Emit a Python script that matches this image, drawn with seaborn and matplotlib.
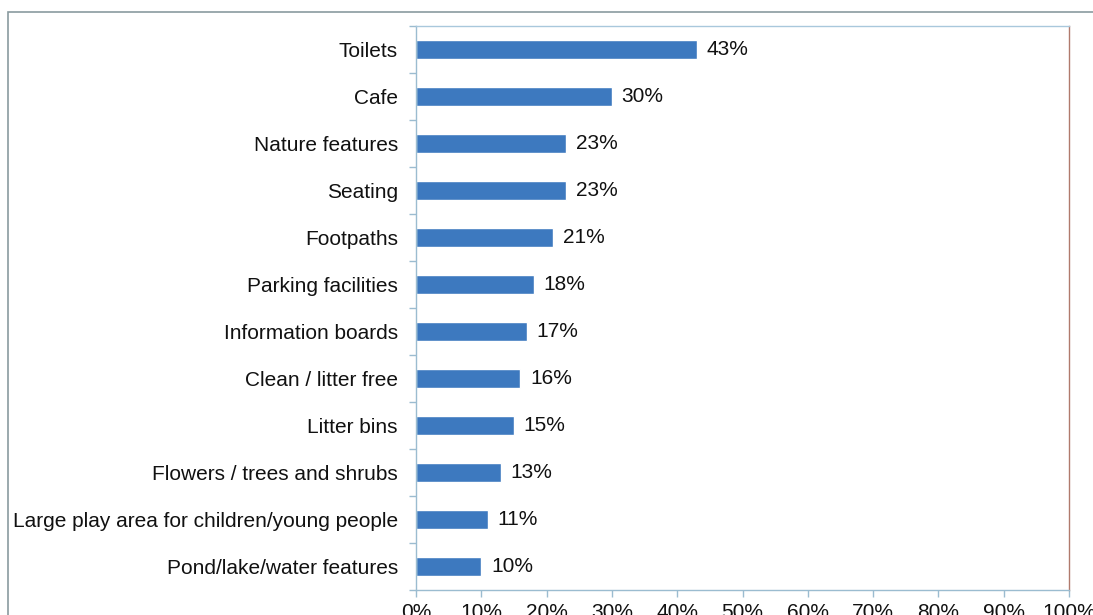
import matplotlib
matplotlib.use("Agg")
import matplotlib.pyplot as plt
import matplotlib.patches as mpatches
from matplotlib.ticker import FixedLocator, PercentFormatter
import numpy as np
import pandas as pd
import seaborn as sns

categories = [
    "Toilets",
    "Cafe",
    "Nature features",
    "Seating",
    "Footpaths",
    "Parking facilities",
    "Information boards",
    "Clean / litter free",
    "Litter bins",
    "Flowers / trees and shrubs",
    "Large play area for children/young people",
    "Pond/lake/water features",
]
shares = [43, 30, 23, 23, 21, 18, 17, 16, 15, 13, 11, 10]
x_ticks = list(range(0, 101, 10))

sns.set_theme(style="white")
plt.rcParams["font.family"] = ["Liberation Sans", "DejaVu Sans"]

df = pd.DataFrame({"feature": categories, "share": shares})

W, H = 1093, 615
FS = 15
fig = plt.figure(figsize=(W / 100, H / 100), dpi=100)
ax = fig.add_axes([416 / W, 1 - 590 / H, (1069 - 416) / W, (590 - 26) / H])

bar_color = "#3d79bf"
sns.barplot(data=df, y="feature", x="share", order=categories, orient="h",
            color=bar_color, width=0.39, saturation=1, ax=ax)

ax.set_xlim(0, 100)
ax.set_ylim(len(categories) - 0.5, -0.5)
ax.set_xlabel("")
ax.set_ylabel("")

# value labels to the right of each bar
for i, v in enumerate(shares):
    ax.text(v + 1.5, i, f"{v}%", va="center", ha="left", fontsize=FS,
            color="#111111")

# axes styling
axis_blue = "#9bbcd0"
ax.spines["left"].set_color(axis_blue)
ax.spines["bottom"].set_color(axis_blue)
ax.spines["top"].set_color("#a9c8dc")
ax.spines["right"].set_color("#b07a6c")
for s in ax.spines.values():
    s.set_linewidth(1.0)

ax.xaxis.set_major_locator(FixedLocator(x_ticks))
ax.xaxis.set_major_formatter(PercentFormatter(decimals=0))
ax.tick_params(axis="x", which="major", bottom=True, direction="out",
               length=5, width=1, color=axis_blue, labelsize=FS,
               labelcolor="#111111", pad=4)

ax.set_yticks(range(len(categories)))
ax.set_yticklabels(categories)
ax.set_yticks(np.arange(-0.5, len(categories), 1.0), minor=True)
ax.tick_params(axis="y", which="major", left=False, length=0, labelsize=FS,
               labelcolor="#111111", pad=13)
ax.tick_params(axis="y", which="minor", left=True, direction="out",
               length=5, width=1, color=axis_blue)

# outer chart frame
frame = mpatches.Rectangle((8 / W, -0.1), 1.2, 1 - 12 / H + 0.1,
                           transform=fig.transFigure, fill=False,
                           edgecolor="#8a9ba0", linewidth=1.2, zorder=0)
fig.patches.append(frame)

fig.savefig("out.png", dpi=100)
